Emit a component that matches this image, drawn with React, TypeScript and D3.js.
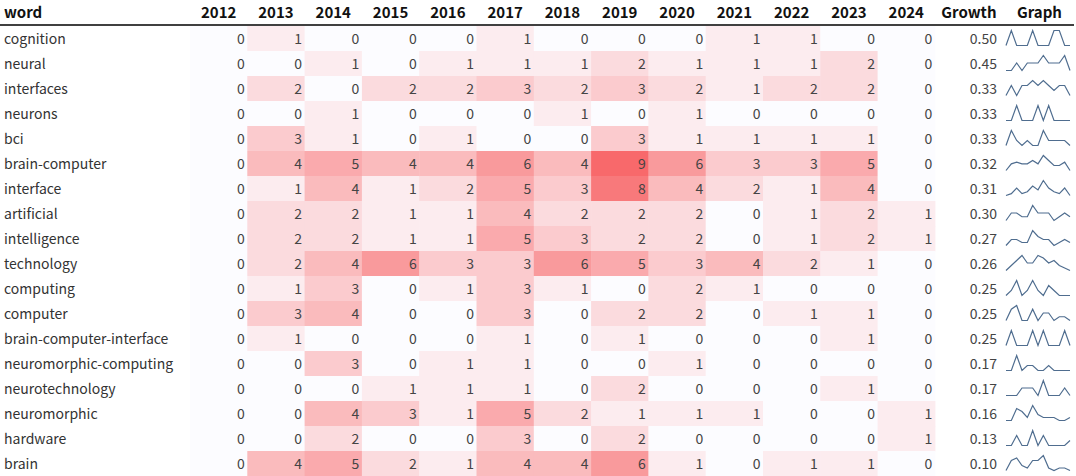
import React from "react";
import * as d3 from "d3";

const years = ["2012","2013","2014","2015","2016","2017","2018","2019","2020","2021","2022","2023","2024"];
const words = ["cognition","neural","interfaces","neurons","bci","brain-computer","interface","artificial","intelligence","technology","computing","computer","brain-computer-interface","neuromorphic-computing","neurotechnology","neuromorphic","hardware","brain"];
const counts: number[][] = [
  [0,1,0,0,0,1,0,0,0,1,1,0,0],
  [0,0,1,0,1,1,1,2,1,1,1,2,0],
  [0,2,0,2,2,3,2,3,2,1,2,2,0],
  [0,0,1,0,0,0,1,0,1,0,0,0,0],
  [0,3,1,0,1,0,0,3,1,1,1,1,0],
  [0,4,5,4,4,6,4,9,6,3,3,5,0],
  [0,1,4,1,2,5,3,8,4,2,1,4,0],
  [0,2,2,1,1,4,2,2,2,0,1,2,1],
  [0,2,2,1,1,5,3,2,2,0,1,2,1],
  [0,2,4,6,3,3,6,5,3,4,2,1,0],
  [0,1,3,0,1,3,1,0,2,1,0,0,0],
  [0,3,4,0,0,3,0,2,2,0,1,1,0],
  [0,1,0,0,0,1,0,1,0,0,0,1,0],
  [0,0,3,0,1,1,0,0,1,0,0,0,0],
  [0,0,0,1,1,1,0,2,0,0,0,1,0],
  [0,0,4,3,1,5,2,1,1,1,0,0,1],
  [0,0,2,0,0,3,0,2,0,0,0,0,1],
  [0,4,5,2,1,4,4,6,1,0,1,1,0],
];
const growth = [0.50,0.45,0.33,0.33,0.33,0.32,0.31,0.30,0.27,0.26,0.25,0.25,0.25,0.17,0.17,0.16,0.13,0.10];

const W = 1076, H = 476;
const headerH = 26;
const rowH = (H - headerH) / words.length;
const yearX0 = 190, yearW = 57.3;
const growthX0 = yearX0 + yearW * years.length;
const growthW = 68;
const graphX0 = growthX0 + growthW;
const font = "'Noto Sans CJK JP', 'Noto Sans', sans-serif";

export default function App() {
  const maxV = d3.max(counts.flat()) as number;
  const color = d3.scaleLinear<string>().domain([0, maxV]).range(["#FCFCFF", "#F8696B"]).interpolate(d3.interpolateRgb);
  const xYear = d3.scaleBand<string>().domain(years).range([yearX0, growthX0]).padding(0);
  const yRow = d3.scaleBand<string>().domain(words).range([headerH, H]).padding(0);

  return (
    <svg width={W} height={H} style={{ position: "absolute", left: 0, top: 0, background: "#fff" }} fontFamily={font}>
      {/* header */}
      <text x={4} y={18} fontSize={15} fontWeight="bold" fill="#111">word</text>
      {years.map((yr) => (
        <text key={yr} x={(xYear(yr) as number) + xYear.bandwidth() / 2} y={18} fontSize={15} fontWeight="bold" fill="#111" textAnchor="middle">{yr}</text>
      ))}
      <text x={growthX0 + growthW / 2} y={18} fontSize={15} fontWeight="bold" fill="#111" textAnchor="middle">Growth</text>
      <text x={graphX0 + (W - graphX0) / 2} y={18} fontSize={15} fontWeight="bold" fill="#111" textAnchor="middle">Graph</text>
      <line x1={0} x2={W - 2} y1={25} y2={25} stroke="#000" strokeWidth={1.3} />

      {words.map((w, i) => {
        const y0 = yRow(w) as number;
        const cy = y0 + rowH / 2;
        const row = counts[i];
        const rmax = d3.max(row) as number;
        const sx = d3.scaleLinear().domain([0, years.length - 1]).range([1006, 1070]);
        const sy = d3.scaleLinear().domain([0, rmax || 1]).range([y0 + 19.5, y0 + 4.5]);
        const line = d3.line<number>().x((_, j) => sx(j)).y((v) => sy(v));
        return (
          <g key={w}>
            {row.map((v, j) => (
              <rect key={j} x={xYear(years[j]) as number} y={y0} width={xYear.bandwidth() + 0.5} height={rowH + 0.5} fill={color(v)} />
            ))}
            <text x={4} y={cy + 5} fontSize={14} fill="#333">{w}</text>
            {row.map((v, j) => (
              <text key={"t" + j} x={(xYear(years[j]) as number) + xYear.bandwidth() - 2.5} y={cy + 5} fontSize={14} fill="#444" textAnchor="end">{v}</text>
            ))}
            <text x={997} y={cy + 5} fontSize={14} fill="#444" textAnchor="end">{growth[i].toFixed(2)}</text>
            <path d={line(row) as string} fill="none" stroke="#4f6d8f" strokeWidth={1.2} />
          </g>
        );
      })}
    </svg>
  );
}
